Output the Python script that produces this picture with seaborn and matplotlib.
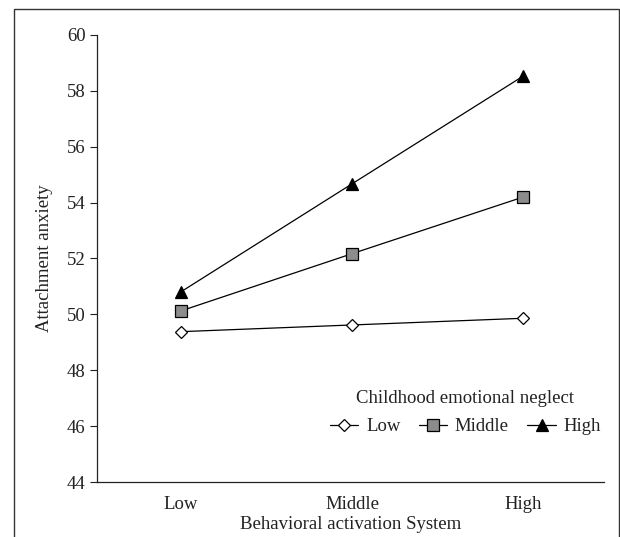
import matplotlib
matplotlib.use("Agg")
import matplotlib.pyplot as plt
import seaborn as sns
import pandas as pd
from matplotlib.lines import Line2D
from matplotlib.patches import Rectangle

bas_levels = ["Low", "Middle", "High"]
neglect_groups = ["Low", "Middle", "High"]
low_neglect = [49.38, 49.62, 49.86]
middle_neglect = [50.12, 52.17, 54.2]
high_neglect = [50.8, 54.67, 58.53]
y_ticks = [44, 46, 48, 50, 52, 54, 56, 58, 60]

sns.set_theme(style="white")
plt.rcParams['font.family'] = ['Liberation Serif', 'DejaVu Serif']

rows = []
for g, vals in zip(neglect_groups, [low_neglect, middle_neglect, high_neglect]):
    for b, v in zip(bas_levels, vals):
        rows.append({"BAS": b, "pos": bas_levels.index(b), "Neglect": g, "value": v})
df = pd.DataFrame(rows)

fig = plt.figure(figsize=(6.2, 5.37), dpi=100)
ax = fig.add_axes([0.156, 0.1024, 0.818, 0.8326])

styles = {
    "Low": dict(marker="D", markersize=6, markerfacecolor="white"),
    "Middle": dict(marker="s", markersize=8, markerfacecolor="#8c8c8c"),
    "High": dict(marker="^", markersize=8, markerfacecolor="black"),
}
handles = []
for g in neglect_groups:
    sub = df[df["Neglect"] == g]
    st = styles[g]
    sns.lineplot(data=sub, x="pos", y="value", ax=ax, color="black", linewidth=0.9,
                 marker=st["marker"], markersize=st["markersize"],
                 markerfacecolor=st["markerfacecolor"], markeredgecolor="black",
                 markeredgewidth=0.9, legend=False)
    handles.append(Line2D([], [], color="black", linewidth=0.9, marker=st["marker"],
                          markersize=st["markersize"], markerfacecolor=st["markerfacecolor"],
                          markeredgecolor="black", markeredgewidth=0.9, label=g))

ax.set_xlim(-0.49, 2.47)
ax.set_ylim(44, 60)
ax.set_yticks(y_ticks)
ax.set_xticks(range(len(bas_levels)))
ax.set_xticklabels(bas_levels)
ax.tick_params(axis="y", direction="out", length=5, width=0.8, color="#222222",
               labelsize=13.5, left=True, pad=3)
ax.tick_params(axis="x", length=0, labelsize=13.5, pad=10)
for lab in ax.get_yticklabels() + ax.get_xticklabels():
    lab.set_color("#222222")
sns.despine(ax=ax)
for s in ["left", "bottom"]:
    ax.spines[s].set_color("#222222")
    ax.spines[s].set_linewidth(0.9)
ax.set_xlabel("Behavioral activation System", fontsize=13.5, color="#222222", labelpad=2)
ax.set_ylabel("Attachment anxiety", fontsize=13.5, color="#222222", labelpad=10)

leg = ax.legend(handles=handles, title="Childhood emotional neglect", ncol=3,
                frameon=False, fontsize=13.5, title_fontsize=13.5,
                loc="center", bbox_to_anchor=(0.727, 0.155),
                handlelength=1.5, handletextpad=0.4, columnspacing=1.0,
                borderpad=0.2)
leg.get_title().set_color("#222222")
leg._legend_box.sep = 8
for t in leg.get_texts():
    t.set_color("#222222")

fig.patches.append(Rectangle((14 / 620, -0.05), (619 - 14) / 620, 1 - 9 / 537 + 0.05,
                             transform=fig.transFigure, fill=False,
                             edgecolor="#333333", linewidth=1.0))

fig.savefig("out.png", dpi=100)
